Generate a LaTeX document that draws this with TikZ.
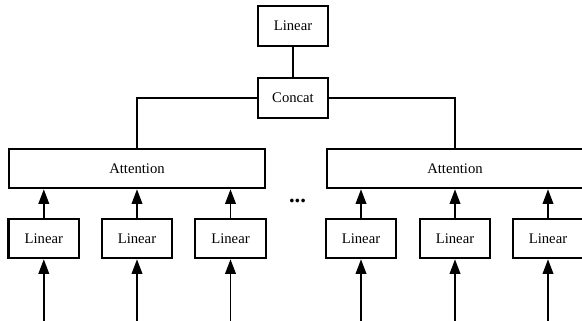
\documentclass[tikz,border=0pt]{standalone}
\usepackage{fontspec}
\setmainfont{Liberation Serif}
\usetikzlibrary{arrows.meta}
\begin{document}
\begin{tikzpicture}[x=0.75pt,y=-0.75pt,
  box/.style={draw,line width=1.7pt,inner sep=0pt,minimum height=29.5pt,font=\fontsize{11}{13}\selectfont},
  lin/.style={box,minimum width=53pt},
  att/.style={box,minimum width=192.5pt},
  conn/.style={line width=1.3pt},
  arr/.style={conn,-{Triangle[length=11pt,width=8pt]}}]
\useasboundingbox (0,0) rectangle (582,321);
\node[lin] (top) at (293,26) {Linear};
\node[lin] (cat) at (293,98) {Concat};
\node[att] (attL) at (137,168.5) {Attention};
\node[att] (attR) at (455,168.5) {Attention};
\foreach \i/\x in {1/43.8,2/137,3/230.5,4/361,5/455,6/548}{
  \node[lin] (l\i) at (\x,238.5) {Linear};
  \coordinate (in\i) at (\x,321);
  \draw[arr] (in\i) -- (l\i.south);
}
\foreach \i in {1,2,3}{\draw[arr] (l\i.north) -- (l\i.north |- attL.south);}
\foreach \i in {4,5,6}{\draw[arr] (l\i.north) -- (l\i.north |- attR.south);}
\draw[conn] (top.south) -- (cat.north);
\draw[conn] (cat.west) -| (attL.north);
\draw[conn] (cat.east) -| (attR.north);
\node[font=\fontsize{17}{17}\selectfont\bfseries,inner sep=0pt] (dots) at (297.5,200.5) {...};
\end{tikzpicture}
\end{document}
